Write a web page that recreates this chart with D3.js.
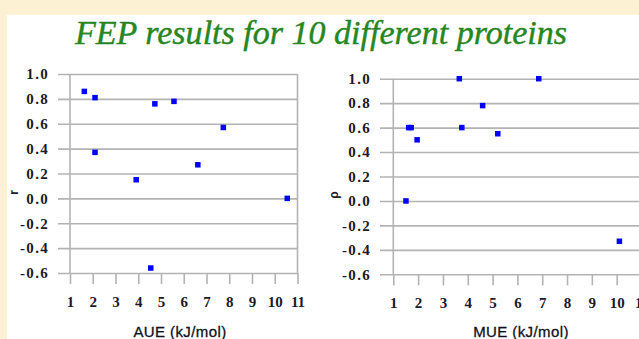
<!DOCTYPE html>
<html>
<head>
<meta charset="utf-8">
<script src="https://cdn.jsdelivr.net/npm/d3@7"></script>
<style>
  html, body { margin: 0; padding: 0; background: #fdf1d3; }
  svg { display: block; }
</style>
</head>
<body>
<script>
// ---- data ----
const titleText = "FEP results for 10 different proteins";
const aueValues = [1.63, 2.10, 2.10, 3.91, 4.73, 5.57, 6.62, 7.74, 10.55, 4.55];
const rValues   = [0.86, 0.81, 0.37, 0.15, 0.76, 0.78, 0.27, 0.57, 0.00, -0.56];
const mueValues = [3.66, 6.86, 4.60, 1.62, 1.72, 3.76, 1.96, 5.21, 1.51, 10.11];
const rhoValues = [1.00, 1.00, 0.78, 0.60, 0.60, 0.60, 0.50, 0.55, 0.00, -0.33];
const xTicks = [1, 2, 3, 4, 5, 6, 7, 8, 9, 10, 11];
const yTicks = [1.0, 0.8, 0.6, 0.4, 0.2, 0.0, -0.2, -0.4, -0.6];
const xTitles = ["AUE (kJ/mol)", "MUE (kJ/mol)"];
const yTitles = ["r", "ρ"];

const W = 639, H = 339;
const svg = d3.select("body").append("svg").attr("width", W).attr("height", H);

// background panels
svg.append("rect").attr("x", 0).attr("y", 0).attr("width", W).attr("height", H).attr("fill", "#fdf1d3");
svg.append("rect").attr("x", 7).attr("y", 15).attr("width", W - 7).attr("height", H - 15).attr("fill", "#ffffff");

// title
svg.append("text")
  .attr("x", 321).attr("y", 44)
  .attr("text-anchor", "middle")
  .attr("font-family", "'Liberation Serif', serif")
  .attr("font-style", "italic")
  .attr("font-size", 33)
  .attr("fill", "#27861f")
  .attr("stroke", "#27861f").attr("stroke-width", 0.4)
  .attr("textLength", 492)
  .attr("lengthAdjust", "spacingAndGlyphs")
  .text(titleText);

const gridColor = "#b3b3b3";
const tickFont = "'Liberation Serif', 'Times New Roman', serif";

function panel(cfg) {
  const x = d3.scaleLinear().domain([1, 11]).range([cfg.x0, cfg.x1]);
  const y = d3.scaleLinear().domain([-0.6, 1.0]).range([cfg.yBottom, cfg.yTop]);
  const g = svg.append("g");

  // y axis with grid lines
  const yAxis = d3.axisLeft(y).tickValues(yTicks)
    .tickSize(-(cfg.gridRight - cfg.gridLeft))
    .tickPadding(9)
    .tickFormat(d3.format(".1f"));
  const ya = g.append("g").attr("transform", `translate(${cfg.gridLeft},0)`).call(yAxis);
  ya.attr("font-size", null);
  ya.select(".domain").remove();
  ya.selectAll(".tick line").attr("stroke", gridColor).attr("stroke-width", 1.6);
  ya.selectAll(".tick text")
    .attr("font-family", tickFont).attr("font-weight", "bold")
    .attr("font-size", 15).attr("letter-spacing", 1.3).attr("fill", "#1a1a2a")
    .text(d => d3.format(".1f")(d).replace("−", "-"));

  // x axis ticks
  const xAxis = d3.axisBottom(x).tickValues(xTicks).tickSize(11).tickPadding(12).tickFormat(d3.format("d"));
  const xa = g.append("g").attr("transform", `translate(0,${cfg.yBottom})`).call(xAxis);
  xa.attr("font-size", null);
  xa.select(".domain").remove();
  xa.selectAll(".tick line").attr("stroke", gridColor).attr("stroke-width", 1.6);
  xa.selectAll(".tick text")
    .attr("font-family", tickFont).attr("font-weight", "bold")
    .attr("font-size", 15).attr("fill", "#1a1a2a");

  // vertical axis line and right border
  g.append("line").attr("x1", x(1)).attr("x2", x(1))
    .attr("y1", y(1.0)).attr("y2", y(-0.6))
    .attr("stroke", gridColor).attr("stroke-width", 1.6);
  g.append("line").attr("x1", x(11)).attr("x2", x(11))
    .attr("y1", y(1.0)).attr("y2", y(-0.6))
    .attr("stroke", gridColor).attr("stroke-width", 1.6);

  // points
  const s = 5.5;
  g.selectAll("rect.pt").data(cfg.xs.map((v, i) => [v, cfg.ys[i]]))
    .join("rect").attr("class", "pt")
    .attr("x", d => x(d[0]) - s / 2).attr("y", d => y(d[1]) - s / 2)
    .attr("width", s).attr("height", s).attr("fill", "#0000ff");

  // axis titles
  g.append("text").attr("x", cfg.titleX).attr("y", 337)
    .attr("text-anchor", "middle")
    .attr("font-family", "'Liberation Sans', Arial, sans-serif")
    .attr("font-size", 15).attr("letter-spacing", 0.4).attr("fill", "#101020")
    .attr("stroke", "#101020").attr("stroke-width", 0.3)
    .text(cfg.xTitle);
  g.append("text")
    .attr("transform", `translate(${cfg.yTitleX},${y(0) - 6}) rotate(-90)`)
    .attr("text-anchor", "middle")
    .attr("font-family", "'Liberation Sans', Arial, sans-serif")
    .attr("font-weight", "bold")
    .attr("font-size", 12).attr("fill", "#202030")
    .text(cfg.yTitle);
}

panel({ x0: 70, x1: 297.5, yTop: 74, yBottom: 273, gridLeft: 58, gridRight: 297.5,
        xs: aueValues, ys: rValues, xTitle: xTitles[0], yTitle: yTitles[0], titleX: 180, yTitleX: 18 });
panel({ x0: 393.3, x1: 641.5, yTop: 78.7, yBottom: 274.3, gridLeft: 380, gridRight: 641.5,
        xs: mueValues, ys: rhoValues, xTitle: xTitles[1], yTitle: yTitles[1], titleX: 521, yTitleX: 338 });
</script>
</body>
</html>
